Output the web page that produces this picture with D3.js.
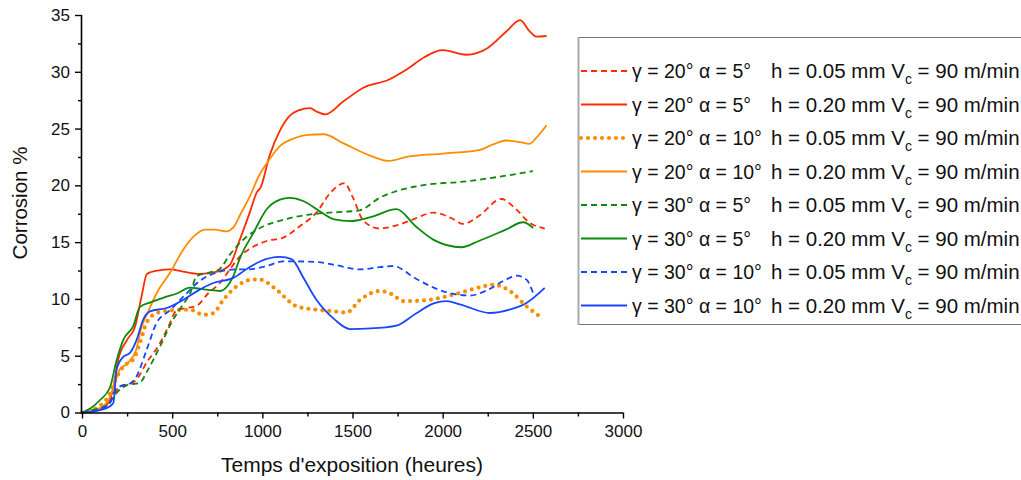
<!DOCTYPE html>
<html>
<head>
<meta charset="utf-8">
<script src="https://cdn.jsdelivr.net/npm/d3@7"></script>
<style>
  html, body { margin: 0; padding: 0; background: #fff; }
  svg { display: block; font-family: "Liberation Sans", Arial, sans-serif; }
</style>
</head>
<body>
<svg id="chart" width="1021" height="480"></svg>
<script>
// Corrosion (%) versus exposure time (hours) for eight cutting conditions
const xTicks = [0, 500, 1000, 1500, 2000, 2500, 3000];
const yTicks = [0, 5, 10, 15, 20, 25, 30, 35];

const g20a5h05 = [[0,0],[50,0.1],[100,0.3],[150,0.9],[175,1.5],[210,2.3],[280,2.6],[320,3.3],[358,4.4],[400,5.3],[432,6.1],[480,7.6],[525,9],[580,9.2],[636,9.4],[700,10.5],[765,11.4],[820,12.6],[876,13.75],[950,14.6],[1024,15.1],[1116,15.4],[1208,16.4],[1300,17.6],[1375,19.3],[1455,20.2],[1500,19],[1560,16.9],[1650,16.2],[1750,16.5],[1850,17.1],[1950,17.6],[2050,17.1],[2114,16.6],[2200,17.3],[2326,18.8],[2400,18],[2483,16.7],[2566,16.2]];
const g20a5h20 = [[0,0],[50,0.1],[100,0.3],[150,0.9],[175,2.3],[200,4.6],[250,6.4],[295,7.6],[330,10.2],[360,12.2],[420,12.5],[490,12.6],[560,12.4],[650,12.2],[750,12.4],[820,13],[870,15],[930,17.6],[970,19.4],[990,19.8],[1040,22.6],[1100,24.9],[1150,26.1],[1200,26.6],[1265,26.8],[1300,26.5],[1350,26.25],[1450,27.4],[1560,28.6],[1700,29.3],[1800,30.2],[1900,31.3],[2000,31.9],[2130,31.5],[2250,32.1],[2350,33.5],[2430,34.55],[2480,33.6],[2520,33.1],[2576,33.15]];
const g20a10h05 = [[0,0],[50,0.2],[100,0.6],[150,1.5],[190,3],[229,4.05],[284,4.65],[321,6.1],[358,7.9],[414,8.75],[500,9],[599,9.05],[673,8.6],[728,8.75],[783,9.9],[857,11.1],[950,11.7],[987,11.7],[1079,10.8],[1190,9.35],[1301,9.05],[1400,8.9],[1467,8.8],[1541,9.9],[1652,10.7],[1720,10.4],[1781,9.8],[1911,9.9],[2077,10.45],[2200,11],[2280,11.25],[2373,10.7],[2465,9.35],[2539,8.45]];
const g20a10h20 = [[0,0],[50,0.2],[100,0.4],[150,1.2],[180,2.5],[210,3.8],[250,4.3],[300,5.5],[330,7.5],[370,9],[414,10.5],[488,12.3],[560,14.3],[620,15.5],[680,16.1],[740,16.1],[800,15.95],[840,16.3],[880,17.5],[930,19],[980,20.8],[1040,22.3],[1100,23.5],[1170,24.1],[1250,24.45],[1340,24.5],[1450,23.7],[1600,22.6],[1700,22.15],[1800,22.5],[2000,22.8],[2200,23.1],[2280,23.6],[2350,23.95],[2430,23.8],[2480,23.65],[2520,24.2],[2576,25.3]];
const g30a5h05 = [[0,0],[50,0.2],[100,0.4],[150,0.8],[190,1.7],[250,2.4],[320,2.6],[360,3.6],[432,5.8],[506,8.2],[560,9.5],[600,10.5],[636,12],[700,12.3],[760,12.6],[820,13.9],[880,15],[950,15.9],[1006,16.4],[1100,16.9],[1208,17.3],[1300,17.5],[1375,17.6],[1480,17.7],[1541,17.8],[1650,18.9],[1744,19.5],[1850,19.9],[1930,20.1],[2100,20.3],[2225,20.55],[2350,20.85],[2500,21.25]];
const g30a5h20 = [[0,0],[50,0.4],[100,1.1],[155,2.2],[192,4.6],[229,6.4],[284,7.6],[321,9.3],[380,9.7],[450,10.1],[530,10.5],[599,11],[650,10.9],[700,10.8],[765,10.7],[810,11.2],[839,12],[876,13.6],[950,15.8],[1024,17.9],[1098,18.75],[1150,18.9],[1230,18.6],[1320,17.7],[1400,17],[1486,16.85],[1600,17.2],[1744,17.9],[1850,16.4],[1950,15.2],[2104,14.55],[2200,15.1],[2350,16.1],[2446,16.75],[2502,16.25]];
const g30a10h05 = [[0,0],[50,0.1],[100,0.3],[150,0.7],[185,2],[210,2.3],[260,2.5],[303,3.2],[358,5.5],[414,7.9],[488,9],[562,10.2],[654,11.6],[765,12.4],[850,12.6],[913,12.6],[1024,12.9],[1116,13.3],[1200,13.3],[1301,13.25],[1400,13],[1541,12.6],[1650,12.8],[1725,12.9],[1850,11.8],[1950,11],[2040,10.5],[2151,10.3],[2250,10.8],[2350,11.7],[2410,12.05],[2465,11.7],[2502,10.5]];
const g30a10h20 = [[0,0],[50,0.05],[100,0.2],[150,0.5],[174,0.85],[192,3.8],[229,4.9],[266,5.25],[303,6.4],[340,8.2],[377,8.9],[469,9.2],[580,10.1],[650,10.8],[728,11.4],[839,11.85],[920,12.7],[987,13.3],[1098,13.7],[1162,13.5],[1230,11.8],[1301,9.9],[1400,8.2],[1486,7.35],[1600,7.4],[1744,7.65],[1850,8.7],[1950,9.6],[2021,9.8],[2100,9.5],[2262,8.76],[2380,9.1],[2465,9.65],[2566,10.97]];

const angleLabels = ["γ = 20° α = 5°", "γ = 20° α = 5°", "γ = 20° α = 10°", "γ = 20° α = 10°",
                     "γ = 30° α = 5°", "γ = 30° α = 5°", "γ = 30° α = 10°", "γ = 30° α = 10°"];
const depthLabels = ["h = 0.05 mm", "h = 0.20 mm", "h = 0.05 mm", "h = 0.20 mm",
                     "h = 0.05 mm", "h = 0.20 mm", "h = 0.05 mm", "h = 0.20 mm"];
const speedLabel = "= 90 m/min";

const RED = "#ff2a00", ORANGE = "#ff8c00", GREEN = "#0b8a0b", BLUE = "#1846ff";
const series = [
  { data: g20a5h05,  color: RED,    style: "dash" },
  { data: g20a5h20,  color: RED,    style: "solid" },
  { data: g20a10h05, color: ORANGE, style: "dot" },
  { data: g20a10h20, color: ORANGE, style: "solid" },
  { data: g30a5h05,  color: GREEN,  style: "dash" },
  { data: g30a5h20,  color: GREEN,  style: "solid" },
  { data: g30a10h05, color: BLUE,   style: "dash" },
  { data: g30a10h20, color: BLUE,   style: "solid" }
];

const svg = d3.select("#chart");
const x = d3.scaleLinear().domain([0, 3000]).range([82, 623]);
const y = d3.scaleLinear().domain([0, 35]).range([412.5, 15]);

function applyStyle(sel, s) {
  sel.attr("stroke", s.color).attr("fill", "none");
  if (s.style === "dash") sel.attr("stroke-width", 1.8).attr("stroke-dasharray", "6,4");
  else if (s.style === "dot") sel.attr("stroke-width", 4.2).attr("stroke-dasharray", "0,7").attr("stroke-linecap", "round");
  else sel.attr("stroke-width", 1.8);
}

// curves
const line = d3.line().x(d => x(d[0])).y(d => y(d[1])).curve(d3.curveMonotoneX);
const plot = svg.append("g");
series.forEach(s => {
  plot.append("path").datum(s.data).attr("d", line).call(applyStyle, s);
});

// axes
const axisColor = "#000";
const xAxis = svg.append("g").attr("transform", `translate(0,${y(0)})`)
  .call(d3.axisBottom(x).tickValues(xTicks).tickSize(6).tickPadding(6).tickFormat(d3.format("d")));
const xMinor = svg.append("g").attr("transform", `translate(0,${y(0)})`)
  .call(d3.axisBottom(x).tickValues(d3.range(250, 3000, 500)).tickSize(4).tickFormat(""));
const yAxis = svg.append("g").attr("transform", `translate(${x(0)},0)`)
  .call(d3.axisLeft(y).tickValues(yTicks).tickSize(7).tickPadding(5).tickFormat(d3.format("d")));
const yMinor = svg.append("g").attr("transform", `translate(${x(0)},0)`)
  .call(d3.axisLeft(y).tickValues(d3.range(2.5, 35, 5)).tickSize(4).tickFormat(""));
[xAxis, xMinor, yAxis, yMinor].forEach(a => {
  a.select(".domain").attr("stroke", axisColor).attr("stroke-width", 1.6);
  a.selectAll(".tick line").attr("stroke", axisColor).attr("stroke-width", 1.4);
  a.selectAll(".tick text").attr("fill", "#111").style("font-size", "17px")
    .style("font-family", "'Liberation Sans', Arial, sans-serif");
});
xMinor.select(".domain").remove();
yMinor.select(".domain").remove();
xAxis.select(".domain").attr("d", `M${x(0)},0.5H${x(3000)}`);
yAxis.select(".domain").attr("d", `M-0.5,${y(0)}V${y(35)}`);

// axis titles
svg.append("text").attr("x", 352).attr("y", 472).attr("text-anchor", "middle")
  .style("font-size", "21px").attr("fill", "#111").text("Temps d'exposition (heures)");
svg.append("text").attr("transform", "translate(27,203) rotate(-90)").attr("text-anchor", "middle")
  .style("font-size", "20.5px").attr("fill", "#111").text("Corrosion %");

// legend
const leg = svg.append("g");
leg.append("rect").attr("x", 578.5).attr("y", 37.5).attr("width", 460).attr("height", 287)
  .attr("fill", "#fff").attr("stroke", "#777").attr("stroke-width", 1);
leg.append("line").attr("x1", 578.5).attr("x2", 578.5).attr("y1", 37).attr("y2", 325)
  .attr("stroke", "#aaa").attr("stroke-width", 2);
const rowY = i => 71 + i * 33.5;
series.forEach((s, i) => {
  const cy = rowY(i);
  leg.append("line").attr("x1", 581).attr("x2", 627).attr("y1", cy).attr("y2", cy).call(applyStyle, s);
  leg.append("text").attr("x", 632).attr("y", cy + 7).style("font-size", "19.5px").attr("fill", "#111")
    .text(angleLabels[i]);
  const t = leg.append("text").attr("x", 771).attr("y", cy + 7).style("font-size", "20.5px").attr("fill", "#111");
  t.append("tspan").text(depthLabels[i] + " V");
  t.append("tspan").attr("dy", 6).style("font-size", "14px").text("c");
  t.append("tspan").attr("dy", -6).text(" " + speedLabel);
});
</script>
</body>
</html>
